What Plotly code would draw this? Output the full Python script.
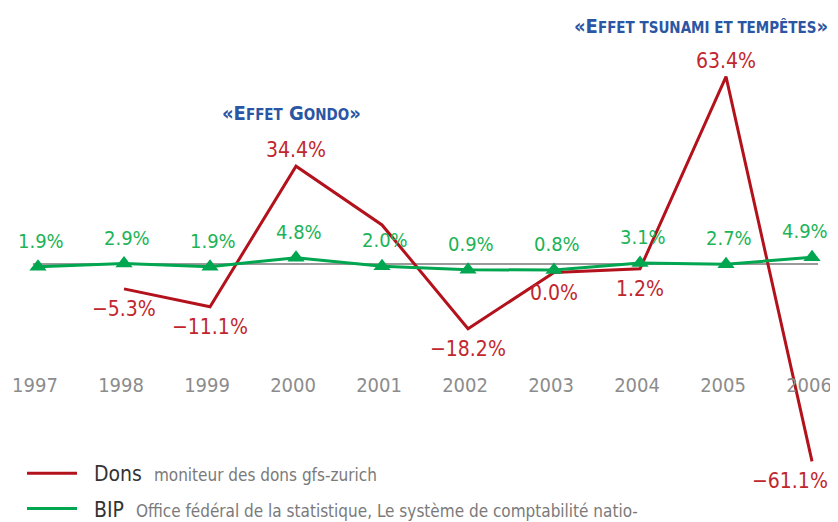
import plotly.graph_objects as go

years = [1997, 1998, 1999, 2000, 2001, 2002, 2003, 2004, 2005, 2006]
year_labels = ["1997", "1998", "1999", "2000", "2001", "2002", "2003", "2004", "2005", "2006"]

dons_years = [1998, 1999, 2000, 2001, 2002, 2003, 2004, 2005, 2006]
dons_values = [-5.3, -11.1, 34.4, 15.4, -18.2, 0.0, 1.2, 63.4, -61.1]
dons_labels = ["−5.3%", "−11.1%", "34.4%", "", "−18.2%", "0.0%", "1.2%", "63.4%", "−61.1%"]

bip_values = [1.9, 2.9, 1.9, 4.8, 2.0, 0.9, 0.8, 3.1, 2.7, 4.9]
bip_labels = ["1.9%", "2.9%", "1.9%", "4.8%", "2.0%", "0.9%", "0.8%", "3.1%", "2.7%", "4.9%"]

baseline_value = 2.75

RED = "#b3121c"
RED_TXT = "#c0272d"
GREEN = "#00a650"
GREEN_TXT = "#1db356"
BLUE = "#2a56a3"
GRAY = "#8c8c8c"
FONT = "DejaVu Sans Condensed, Liberation Sans Narrow, sans-serif"
NB = "\u00a0"

fig = go.Figure()

fig.add_trace(go.Scatter(
    x=dons_years, y=dons_values, mode="lines",
    line=dict(color=RED, width=3),
    name=NB * 2 + "Dons  <span style='font-size:17px;color:#7a7a7a'>moniteur des dons gfs-zurich</span>",
    legendgroup="a",
))
fig.add_trace(go.Scatter(
    x=years, y=bip_values, mode="lines",
    line=dict(color=GREEN, width=3),
    name=NB * 2 + "BIP  <span style='font-size:17px;color:#7a7a7a'>Office fédéral de la statistique, Le système de comptabilité natio-</span>",
    legendgroup="b",
))
fig.add_trace(go.Scatter(
    x=years, y=bip_values, mode="markers",
    marker=dict(symbol="triangle-up", size=15, color=GREEN),
    showlegend=False, hoverinfo="skip",
))

annotations = []
for i, (x, v, t) in enumerate(zip(dons_years, dons_values, dons_labels)):
    if not t:
        continue
    up = v > 20
    last = i == len(dons_years) - 1
    annotations.append(dict(
        x=x, y=v, xref="x", yref="y", text=t, showarrow=False,
        xanchor="right" if last else "center", yanchor="middle",
        xshift=18 if last else 0,
        yshift=16 if up else -20,
        font=dict(family=FONT, size=21, color=RED_TXT),
    ))
for x, v, t in zip(years, bip_values, bip_labels):
    last = x == years[-1]
    annotations.append(dict(
        x=x, y=v, xref="x", yref="y", text=t, showarrow=False,
        xanchor="right" if last else "center", yanchor="middle",
        xshift=18 if last else 3, yshift=26,
        font=dict(family=FONT, size=20, color=GREEN_TXT),
    ))

annotations.append(dict(
    x=2000, y=dons_values[2], xref="x", yref="y",
    text="<b>«E<span style='font-size:15px'>FFET</span> G<span style='font-size:15px'>ONDO</span>»</b>",
    showarrow=False, xanchor="center", yanchor="middle", xshift=-5, yshift=53,
    font=dict(family=FONT, size=20, color=BLUE),
))
annotations.append(dict(
    x=2005, y=dons_values[7], xref="x", yref="y",
    text="<b>«E<span style='font-size:15px'>FFET TSUNAMI ET TEMPÊTES</span>»</b>",
    showarrow=False, xanchor="right", yanchor="middle", xshift=104, yshift=51,
    font=dict(family=FONT, size=20, color=BLUE),
))

fig.add_shape(type="line", xref="x", yref="y",
              x0=years[0] - 0.06, x1=years[-1] + 0.07,
              y0=baseline_value, y1=baseline_value,
              line=dict(color="#9a9a9a", width=2), layer="below")

fig.update_layout(
    width=838, height=522,
    margin=dict(l=0, r=0, t=0, b=0, autoexpand=False),
    paper_bgcolor="white", plot_bgcolor="white",
    font=dict(family=FONT),
    annotations=annotations,
    xaxis=dict(
        range=[1996.651, 2006.395], tickvals=years, ticktext=year_labels,
        showgrid=False, zeroline=False, showline=False, ticks="",
        anchor="free", position=0.3046, ticklabelshift=-3,
        tickfont=dict(family=FONT, size=20, color=GRAY),
    ),
    yaxis=dict(range=[-83.33, 85.6], visible=False, showgrid=False, zeroline=False),
    showlegend=True,
    legend=dict(
        x=0.0167, y=0.1475, xanchor="left", yanchor="top",
        font=dict(family=FONT, size=21, color="#333333"),
        bgcolor="rgba(0,0,0,0)", traceorder="grouped", tracegroupgap=5,
        itemwidth=50,
    ),
)

fig.write_html("out.html")
